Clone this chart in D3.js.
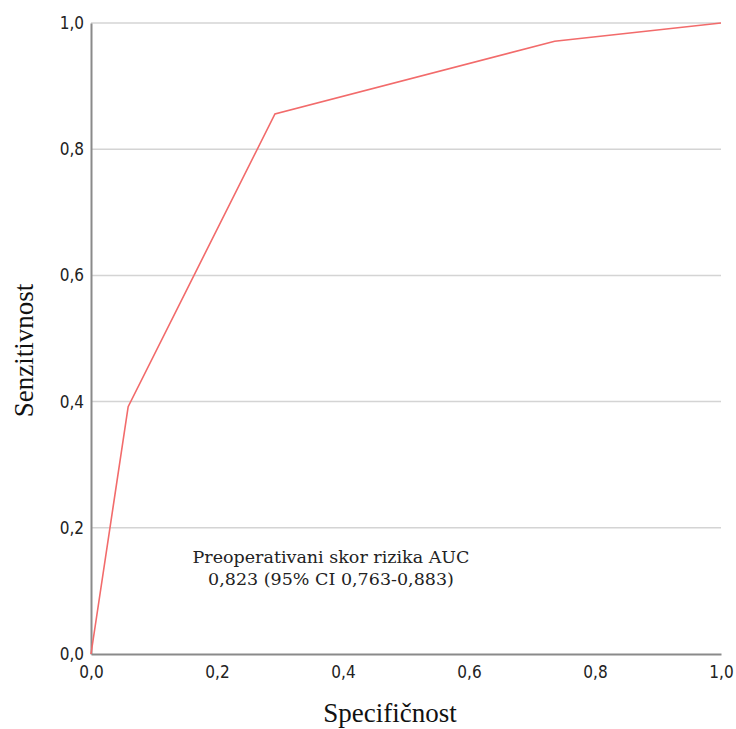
<!DOCTYPE html>
<html>
<head>
<meta charset="utf-8">
<script src="https://cdn.jsdelivr.net/npm/d3@7"></script>
<style>
  body { margin: 0; background: #fff; }
</style>
</head>
<body>
<div id="chart"></div>
<script>
// ROC curve points (1 - specificity on x, sensitivity on y)
const fpr = [0, 0.059, 0.292, 0.736, 1];
const tpr = [0, 0.392, 0.856, 0.971, 1];
const ticks = [0, 0.2, 0.4, 0.6, 0.8, 1.0];
const noteLines = ["Preoperativani skor rizika AUC", "0,823 (95% CI 0,763-0,883)"];

const W = 736, H = 729;
const margin = {top: 23, right: 15, bottom: 75, left: 91};

const svg = d3.select("#chart").append("svg")
    .attr("width", W)
    .attr("height", H);

const x = d3.scaleLinear().domain([0, 1]).range([margin.left, W - margin.right]);
const y = d3.scaleLinear().domain([0, 1]).range([H - margin.bottom, margin.top]);

const fmt = d => d3.format(".1f")(d).replace(".", ",");

// gridlines
svg.append("g")
  .selectAll("line")
  .data(ticks.filter(d => d > 0))
  .join("line")
    .attr("x1", x(0)).attr("x2", x(1))
    .attr("y1", d => y(d)).attr("y2", d => y(d))
    .attr("stroke", "#d4d4d4")
    .attr("stroke-width", 1.5);

// axes
const xAxis = svg.append("g")
    .attr("transform", `translate(0,${y(0)})`)
    .call(d3.axisBottom(x).tickValues(ticks).tickFormat(fmt).tickSize(0).tickPadding(12));
const yAxis = svg.append("g")
    .attr("transform", `translate(${x(0)},0)`)
    .call(d3.axisLeft(y).tickValues(ticks).tickFormat(fmt).tickSize(0).tickPadding(7));

[xAxis, yAxis].forEach(a => {
  a.select(".domain").attr("stroke", "#8a8a8a").attr("stroke-width", 2);
  a.selectAll("text")
    .attr("font-family", "'DejaVu Sans Condensed', 'Liberation Sans Narrow', sans-serif")
    .attr("font-stretch", "condensed")
    .attr("font-size", 17)
    .attr("fill", "#222");
});

// ROC line
const pts = fpr.map((d, i) => [d, tpr[i]]);
svg.append("path")
  .datum(pts)
  .attr("fill", "none")
  .attr("stroke", "#f26b6b")
  .attr("stroke-width", 1.6)
  .attr("d", d3.line().x(d => x(d[0])).y(d => y(d[1])));

// annotation
svg.append("text")
  .attr("x", 331)
  .attr("y", 563)
  .attr("text-anchor", "middle")
  .attr("font-family", "'DejaVu Serif', serif")
  .attr("font-size", 17.5)
  .attr("fill", "#222")
  .selectAll("tspan")
  .data(noteLines)
  .join("tspan")
    .attr("x", 331)
    .attr("dy", (d, i) => i === 0 ? 0 : 22)
    .text(d => d);

// axis titles
svg.append("text")
  .attr("x", 390)
  .attr("y", 722)
  .attr("text-anchor", "middle")
  .attr("font-family", "'Liberation Serif', 'Times New Roman', serif")
  .attr("font-size", 27)
  .attr("fill", "#111")
  .text("Specifičnost");

svg.append("text")
  .attr("transform", `translate(33,${(y(0) + y(1)) / 2 + 12}) rotate(-90)`)
  .attr("text-anchor", "middle")
  .attr("font-family", "'Liberation Serif', 'Times New Roman', serif")
  .attr("font-size", 27)
  .attr("fill", "#111")
  .text("Senzitivnost");
</script>
</body>
</html>
